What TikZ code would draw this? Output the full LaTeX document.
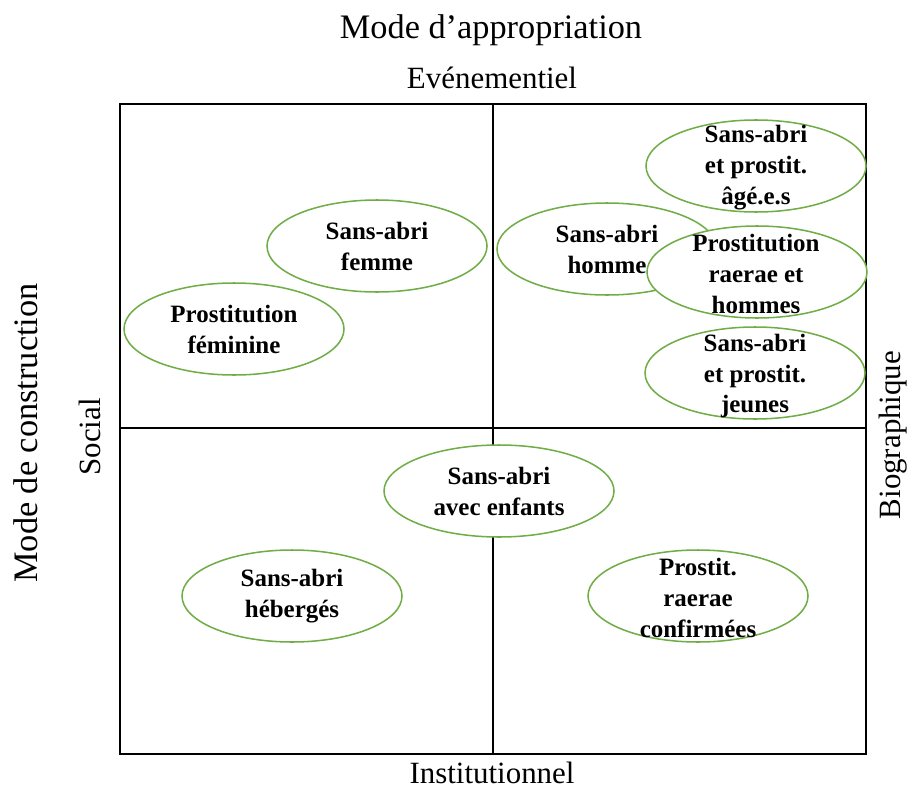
\documentclass[tikz,border=0pt]{standalone}
\usepackage{fontspec}
\setmainfont{Liberation Serif}
\usetikzlibrary{shapes.geometric}
\definecolor{zonegreen}{HTML}{70AD47}

\begin{document}
\begin{tikzpicture}[x=0.03cm,y=-0.03cm,
  zone/.style={ellipse,draw=zonegreen,line width=1.3pt,fill=white,
    inner sep=0pt,minimum width=6.6cm,minimum height=2.76cm},
  zonetext/.style={align=center,inner sep=0pt,
    font=\fontsize{21.3}{26.4}\selectfont\bfseries},
  axistext/.style={inner sep=0pt,font=\fontsize{26.4}{30}\selectfont},
  titletext/.style={inner sep=0pt,font=\fontsize{29.3}{34}\selectfont}]
\useasboundingbox (0,0) rectangle (909,789);

% frame and axes
\coordinate (nw) at (120,104);
\coordinate (se) at (866,754);
\coordinate (top) at (493,104);
\coordinate (bottom) at (493,754);
\coordinate (left) at (120,428);
\coordinate (right) at (866,428);
\draw[line width=1.3pt] (nw) rectangle (se);
\draw[line width=1.1pt] (top) -- (bottom);
\draw[line width=1.1pt] (left) -- (right);

% titles
\node[titletext] (appropriation) at (491,30) {Mode d’appropriation};
\node[axistext] (evenementiel) at (492,78) {Evénementiel};
\node[axistext] (institutionnel) at (492,773) {Institutionnel};
\node[titletext,rotate=90] (construction) at (26,433) {Mode de construction};
\node[axistext,rotate=90] (social) at (90,437) {Social};
\node[axistext,rotate=90] (biographique) at (893,435) {Biographique};

% zones
\node[zone] (femme) at (377,246) {};
\node[zonetext] (femmetext) at (femme) {Sans-abri\\femme};
\node[zone] (feminine) at (234,329) {};
\node[zonetext] (feminintext) at (feminine) {Prostitution\\féminine};
\node[zone] (homme) at (607,249) {};
\node[zonetext] (hommetext) at (homme) {Sans-abri\\homme};
\node[zone] (agees) at (756,166) {};
\node[zonetext] (ageestext) at (756,168) {Sans-abri\\et prostit.\\âgé.e.s};
\node[zone] (raerae) at (757,272) {};
\node[zonetext] (raeraetext) at (756,274) {Prostitution\\raerae et\\hommes};
\node[zone] (jeunes) at (755,373) {};
\node[zonetext] (jeunestext) at (755,376) {Sans-abri\\et prostit.\\jeunes};
\node[zone,minimum width=6.9cm] (enfants) at (499,491) {};
\node[zonetext] (enfantstext) at (enfants) {Sans-abri\\avec enfants};
\node[zone] (heberges) at (292,596) {};
\node[zonetext] (hebergestext) at (heberges) {Sans-abri\\hébergés};
\node[zone] (confirmees) at (698,596) {};
\node[zonetext] (confirmeestext) at (698,598) {Prostit.\\raerae\\confirmées};
\end{tikzpicture}
\end{document}
